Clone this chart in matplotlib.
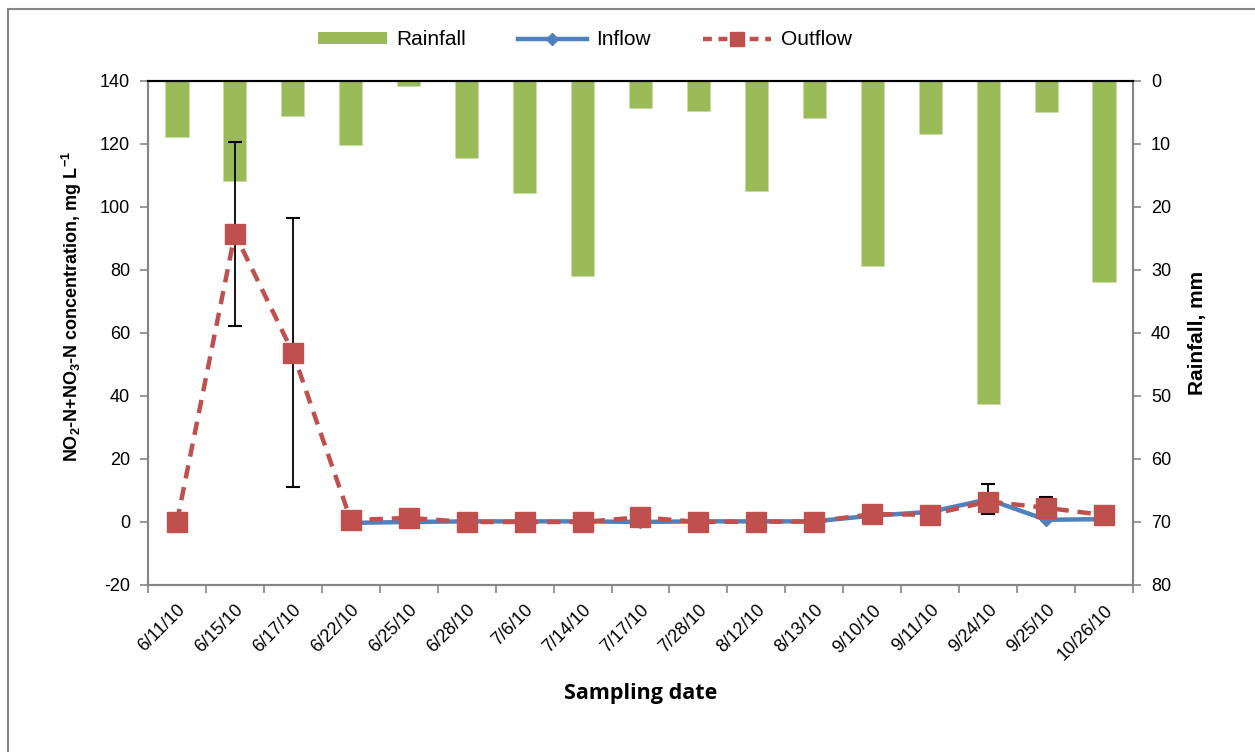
import numpy as np
import matplotlib.pyplot as plt
from matplotlib.patches import Patch, Rectangle
from matplotlib.lines import Line2D

plt.rcParams['font.family'] = ['Liberation Sans', 'DejaVu Sans']
plt.rcParams['mathtext.fontset'] = 'custom'
plt.rcParams['mathtext.rm'] = 'Liberation Sans'
plt.rcParams['mathtext.bf'] = 'Liberation Sans:bold'
plt.rcParams['axes.unicode_minus'] = False

dates = ['6/11/10', '6/15/10', '6/17/10', '6/22/10', '6/25/10', '6/28/10',
         '7/6/10', '7/14/10', '7/17/10', '7/28/10', '8/12/10', '8/13/10',
         '9/10/10', '9/11/10', '9/24/10', '9/25/10', '10/26/10']

rainfall = [8.9, 15.9, 5.6, 10.2, 0.8, 12.2, 17.8, 31.0, 4.3, 4.8,
            17.5, 5.8, 29.4, 8.4, 51.3, 4.9, 31.9]

nan = np.nan
inflow = [nan, nan, nan, -0.3, 0.0, 0.2, 0.2, 0.2, 0.0, 0.2,
          0.2, 0.2, 2.0, 3.2, 7.2, 0.7, 0.9]
inflow_err = [0, 0, 0, 0, 0, 0, 0, 0, 0, 0, 0, 0, 0, 0, 4.7, 0, 0]

outflow = [0.0, 91.5, 53.8, 0.6, 1.3, 0.0, 0.0, 0.0, 1.5, 0.0,
           0.1, 0.1, 2.5, 2.3, 6.5, 4.5, 2.2]
outflow_err = [0, 29.2, 42.7, 0, 0, 0, 0, 0, 0, 0, 0, 0, 0, 0, 0, 3.4, 0]

GREEN = '#9BBB59'
BLUE = '#4F81BD'
RED = '#C0504D'
AXIS_GRAY = '#868686'

fig = plt.figure(figsize=(12.55, 7.52), dpi=100)
ax = fig.add_axes([0.1179, 0.2221, 0.7849, 0.6702])
ax_r = ax.twinx()
ax.set_zorder(ax_r.get_zorder() + 1)
ax.patch.set_visible(False)

x = np.arange(len(dates))

# rainfall bars hang from the top of the secondary axis
ax_r.bar(x, rainfall, width=0.4, color=GREEN, edgecolor='#C9DCA6', linewidth=0.6)
ax_r.set_ylim(80, 0)
ax_r.set_yticks(np.arange(0, 81, 10))
ax_r.set_ylabel('Rainfall, mm', fontsize=15, fontweight='bold', labelpad=12)

ax.plot(x, inflow, color=BLUE, lw=3.2, marker='D', markersize=6,
        markerfacecolor=BLUE, markeredgecolor=BLUE, zorder=3)
in_mask = np.array(inflow_err) > 0
ax.errorbar(x[in_mask], np.array(inflow)[in_mask], yerr=np.array(inflow_err)[in_mask],
            fmt='none', ecolor='black', elinewidth=1.3, capsize=5, capthick=1.5, zorder=2)
ax.plot(x, outflow, color=RED, lw=3.2, ls=(0, (3, 2)), marker='s', markersize=14,
        markerfacecolor=RED, markeredgecolor=RED, zorder=4)
out_mask = np.array(outflow_err) > 0
ax.errorbar(x[out_mask], np.array(outflow)[out_mask], yerr=np.array(outflow_err)[out_mask],
            fmt='none', ecolor='black', elinewidth=1.3, capsize=5, capthick=1.5, zorder=2)

ax.set_xlim(-0.5, len(dates) - 0.5)
ax.set_ylim(-20, 140)
ax.set_yticks(np.arange(-20, 141, 20))
ax.set_xticks(x)
ax.set_xticklabels(dates, rotation=45, ha='right', rotation_mode='anchor', fontsize=13)
ax.set_xticks(np.arange(-0.5, len(dates), 1), minor=True)
ax.tick_params(axis='x', which='major', length=0, pad=12)
ax.tick_params(axis='x', which='minor', length=6, color=AXIS_GRAY, width=1.2)
ax.tick_params(axis='y', labelsize=13, length=6, pad=7, color=AXIS_GRAY, width=1.2)
ax_r.tick_params(axis='y', labelsize=13, length=6, pad=7, color=AXIS_GRAY, width=1.2)

ax.set_ylabel(r'NO$_\mathbf{2}$-N+NO$_\mathbf{3}$-N concentration, mg L$^\mathbf{-1}$',
              fontsize=13, fontweight='bold')
ax.yaxis.set_label_coords(-0.065, 0.553)
ax.set_xlabel('Sampling date', fontsize=15.5, fontweight='bold', family='Open Sans', labelpad=14)

for a in (ax, ax_r):
    for side in ('left', 'right', 'bottom'):
        a.spines[side].set_color(AXIS_GRAY)
        a.spines[side].set_linewidth(1.5)
    a.spines['top'].set_color('black')
    a.spines['top'].set_linewidth(1.5)

handles = [
    Patch(facecolor=GREEN, edgecolor='none'),
    Line2D([], [], color=BLUE, lw=3.2, marker='D', markersize=6),
    Line2D([], [], color=RED, lw=3.2, ls=(0, (2, 1.5)), marker='s', markersize=10),
]
fig.legend(handles, ['Rainfall', 'Inflow', 'Outflow'], loc='center',
           bbox_to_anchor=(0.466, 0.947), ncol=3, frameon=False, fontsize=15,
           handlelength=3.3, handleheight=0.5, columnspacing=2.5, handletextpad=0.45)

# chart border
fig.add_artist(Rectangle((8 / 1255, -0.05), 1.1, 1.05 - 9 / 752, transform=fig.transFigure,
                         fill=False, edgecolor=AXIS_GRAY, linewidth=1.5))

fig.savefig('out.png', dpi=100)
